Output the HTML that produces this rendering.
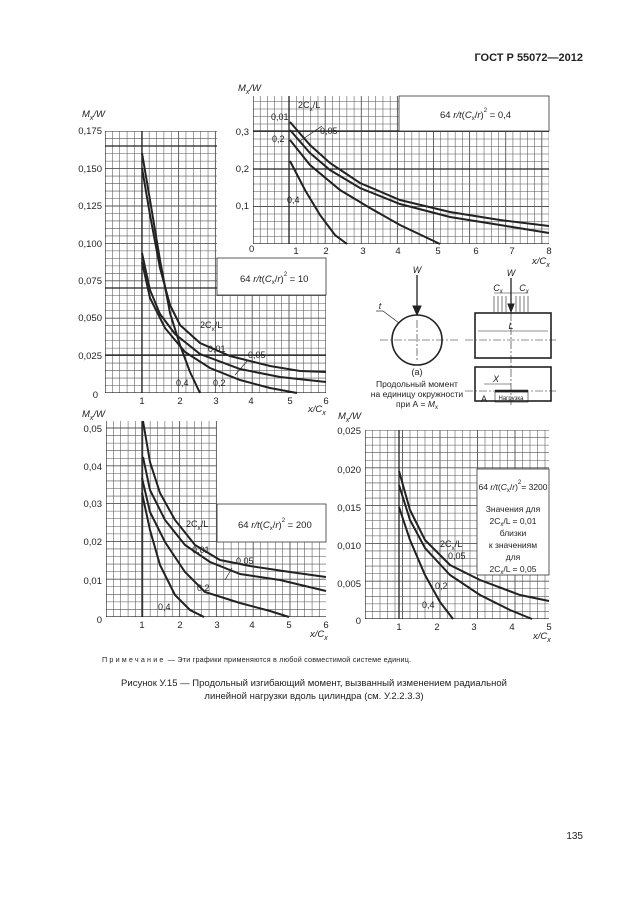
<!DOCTYPE html>
<html><head><meta charset="utf-8">
<style>
html,body{margin:0;padding:0;background:#fff;}
body{width:630px;height:913px;position:relative;overflow:hidden;font-family:"Liberation Sans",sans-serif;color:#222;}
svg text{font-family:"Liberation Sans",sans-serif;fill:#222;}
</style></head><body>
<svg id="s" width="630" height="913" viewBox="0 0 630 913" xmlns="http://www.w3.org/2000/svg">
<defs>
<clipPath id="c1"><polygon points="105,131 217,131 217,295 326,295 326,393 105,393"/></clipPath>
<clipPath id="c2"><polygon points="253,96 399,96 399,131 549,131 549,244 253,244"/></clipPath>
<clipPath id="c3"><polygon points="106,421 217,421 217,542 326,542 326,617 106,617"/></clipPath>
<clipPath id="c4"><polygon points="365,430 549,430 549,469 477,469 477,575 549,575 549,619 365,619"/></clipPath>
</defs>
<g id="grids"></g>
<g fill="#fff" stroke="#333" stroke-width="0.8">
<rect x="217" y="258" width="109" height="37"/>
<rect x="399" y="96" width="150" height="35"/>
<rect x="217" y="504" width="109" height="38"/>
<rect x="477" y="469" width="72" height="106"/>
</g>
<g fill="none" stroke="#222" stroke-width="2">
<!-- chart 1 -->
<polyline points="142,153 150,200 160,260 170,313 180,345 190,372 200,393"/>
<polyline points="142,168 150,215 160,268 170,305 180,325 200,343 230,356 270,366 300,371 326,372"/>
<polyline points="142,253 150,290 160,314 175,334 200,354 240,369 280,377 326,382"/>
<polyline points="142,262 150,298 165,328 185,352 210,368 240,380 270,388 297,393"/>
<!-- chart 2 -->
<polyline points="290,122 310,145 330,163 360,183 400,200 450,212 500,220 549,226"/>
<polyline points="290,130 310,153 330,170 360,188 400,204 450,217 500,225 549,233"/>
<polyline points="290,140 310,165 340,190 370,208 400,225 440,244"/>
<polyline points="290,161 305,190 320,215 335,235 347,244"/>
<!-- chart 3 -->
<polyline points="143,421 150,462 160,493 175,520 195,545 220,560 250,566 290,572 326,577"/>
<polyline points="143,457 150,490 165,520 185,545 210,562 240,574 280,580 326,591"/>
<polyline points="142,478 150,512 165,542 185,572 205,592 240,603 270,611 289,617"/>
<polyline points="142,493 150,530 160,565 175,595 190,610 204,617"/>
<!-- chart 4 -->
<polyline points="399,471 410,510 425,540 450,565 480,580 520,595 549,601"/>
<polyline points="399,485 410,520 425,548 450,575 480,595 510,610 532,619"/>
<polyline points="399,507 410,540 425,575 440,602 453,619"/>
</g>
<g stroke="#222" stroke-width="0.7">
<line x1="300" y1="141" x2="322" y2="126"/>
<line x1="235" y1="375" x2="248" y2="360"/>
<line x1="225" y1="580" x2="232" y2="568"/>
</g>
<g font-size="9.5">
<!-- chart1 axis -->
<text x="82" y="117" font-style="italic">M<tspan font-size="7" dy="3">x</tspan><tspan dy="-3">/W</tspan></text>
<text x="102" y="134" text-anchor="end">0,175</text>
<text x="102" y="172" text-anchor="end">0,150</text>
<text x="102" y="209" text-anchor="end">0,125</text>
<text x="102" y="247" text-anchor="end">0,100</text>
<text x="102" y="284" text-anchor="end">0,075</text>
<text x="102" y="321" text-anchor="end">0,050</text>
<text x="102" y="359" text-anchor="end">0,025</text>
<text x="98" y="398" text-anchor="end">0</text>
<text x="142" y="404" text-anchor="middle">1</text><text x="180" y="404" text-anchor="middle">2</text><text x="216" y="404" text-anchor="middle">3</text><text x="251" y="404" text-anchor="middle">4</text><text x="290" y="404" text-anchor="middle">5</text><text x="326" y="404" text-anchor="middle">6</text>
<text x="308" y="412" font-style="italic">x/C<tspan font-size="7" dy="3">x</tspan></text>
<text x="200" y="328" font-size="9">2C<tspan font-size="6.5" dy="3">x</tspan><tspan dy="-3">/L</tspan></text>
<text x="208" y="352" font-size="9">0,01</text>
<text x="248" y="358" font-size="9">0,05</text>
<text x="213" y="386" font-size="9">0,2</text>
<text x="176" y="386" font-size="9">0,4</text>
<text x="240" y="282" font-size="9.5">64 <tspan font-style="italic">r/t</tspan>(<tspan font-style="italic">C</tspan><tspan font-size="6" dy="2">x</tspan><tspan dy="-2">/</tspan><tspan font-style="italic">r</tspan>)<tspan font-size="6" dy="-6">2</tspan><tspan dy="6"> = 10</tspan></text>
<!-- chart2 -->
<text x="238" y="91" font-style="italic">M<tspan font-size="7" dy="3">x</tspan><tspan dy="-3">/W</tspan></text>
<text x="249" y="135" text-anchor="end">0,3</text>
<text x="249" y="172" text-anchor="end">0,2</text>
<text x="249" y="209" text-anchor="end">0,1</text>
<text x="249" y="252">0</text>
<text x="296" y="254" text-anchor="middle">1</text><text x="326" y="254" text-anchor="middle">2</text><text x="363" y="254" text-anchor="middle">3</text><text x="398" y="254" text-anchor="middle">4</text><text x="438" y="254" text-anchor="middle">5</text><text x="476" y="254" text-anchor="middle">6</text><text x="512" y="254" text-anchor="middle">7</text><text x="549" y="254" text-anchor="middle">8</text>
<text x="532" y="264" font-style="italic">x/C<tspan font-size="7" dy="3">x</tspan></text>
<text x="298" y="108" font-size="9">2C<tspan font-size="6.5" dy="3">x</tspan><tspan dy="-3">/L</tspan></text>
<text x="271" y="120" font-size="9">0,01</text>
<text x="320" y="134" font-size="9">0,05</text>
<text x="272" y="142" font-size="9">0,2</text>
<text x="287" y="203" font-size="9">0,4</text>
<text x="440" y="118" font-size="9.5">64 <tspan font-style="italic">r/t</tspan>(<tspan font-style="italic">C</tspan><tspan font-size="6" dy="2">x</tspan><tspan dy="-2">/</tspan><tspan font-style="italic">r</tspan>)<tspan font-size="6" dy="-6">2</tspan><tspan dy="6"> = 0,4</tspan></text>
<!-- chart3 -->
<text x="82" y="417" font-style="italic">M<tspan font-size="7" dy="3">x</tspan><tspan dy="-3">/W</tspan></text>
<text x="102" y="432" text-anchor="end">0,05</text>
<text x="102" y="470" text-anchor="end">0,04</text>
<text x="102" y="507" text-anchor="end">0,03</text>
<text x="102" y="545" text-anchor="end">0,02</text>
<text x="102" y="584" text-anchor="end">0,01</text>
<text x="102" y="623" text-anchor="end">0</text>
<text x="142" y="628" text-anchor="middle">1</text><text x="180" y="628" text-anchor="middle">2</text><text x="217" y="628" text-anchor="middle">3</text><text x="252" y="628" text-anchor="middle">4</text><text x="289" y="628" text-anchor="middle">5</text><text x="326" y="628" text-anchor="middle">6</text>
<text x="310" y="637" font-style="italic">x/C<tspan font-size="7" dy="3">x</tspan></text>
<text x="186" y="527" font-size="9">2C<tspan font-size="6.5" dy="3">x</tspan><tspan dy="-3">/L</tspan></text>
<text x="192" y="553" font-size="9">0,01</text>
<text x="236" y="564" font-size="9">0,05</text>
<text x="197" y="591" font-size="9">0,2</text>
<text x="158" y="610" font-size="9">0,4</text>
<text x="238" y="528" font-size="9.5">64 <tspan font-style="italic">r/t</tspan>(<tspan font-style="italic">C</tspan><tspan font-size="6" dy="2">x</tspan><tspan dy="-2">/</tspan><tspan font-style="italic">r</tspan>)<tspan font-size="6" dy="-6">2</tspan><tspan dy="6"> = 200</tspan></text>
<!-- chart4 -->
<text x="338" y="419" font-style="italic">M<tspan font-size="7" dy="3">x</tspan><tspan dy="-3">/W</tspan></text>
<text x="361" y="434" text-anchor="end">0,025</text>
<text x="361" y="473" text-anchor="end">0,020</text>
<text x="361" y="511" text-anchor="end">0,015</text>
<text x="361" y="549" text-anchor="end">0,010</text>
<text x="361" y="587" text-anchor="end">0,005</text>
<text x="361" y="624" text-anchor="end">0</text>
<text x="399" y="630" text-anchor="middle">1</text><text x="437" y="630" text-anchor="middle">2</text><text x="474" y="630" text-anchor="middle">3</text><text x="512" y="630" text-anchor="middle">4</text><text x="549" y="630" text-anchor="middle">5</text>
<text x="533" y="639" font-style="italic">x/C<tspan font-size="7" dy="3">x</tspan></text>
<text x="440" y="547" font-size="9">2C<tspan font-size="6.5" dy="3">x</tspan><tspan dy="-3">/L</tspan></text>
<text x="448" y="559" font-size="9">0,05</text>
<text x="435" y="589" font-size="9">0,2</text>
<text x="422" y="608" font-size="9">0,4</text>
<g font-size="8.5" text-anchor="middle">
<text x="513" y="490">64 <tspan font-style="italic">r/t</tspan>(<tspan font-style="italic">C</tspan><tspan font-size="6" dy="2">x</tspan><tspan dy="-2">/</tspan><tspan font-style="italic">r</tspan>)<tspan font-size="6" dy="-6">2</tspan><tspan dy="6">= 3200</tspan></text>
<text x="513" y="512">Значения для</text>
<text x="513" y="524">2C<tspan font-size="6" dy="2">x</tspan><tspan dy="-2">/L = 0,01</tspan></text>
<text x="513" y="536">близки</text>
<text x="513" y="548">к значениям</text>
<text x="513" y="560">для</text>
<text x="513" y="572">2C<tspan font-size="6" dy="2">x</tspan><tspan dy="-2">/L = 0,05</tspan></text>
</g>
</g>
<!-- diagram -->
<g stroke="#222" fill="none">
<circle cx="417" cy="340" r="25" stroke-width="1.6"/>
<line x1="417" y1="275" x2="417" y2="310" stroke-width="1.3"/>
<polygon points="413,306 421,306 417,315" fill="#222"/>
<line x1="380" y1="340" x2="460" y2="340" stroke-width="0.6" stroke-dasharray="8,2,2,2"/>
<line x1="417" y1="320" x2="417" y2="360" stroke-width="0.6" stroke-dasharray="8,2,2,2"/>
<line x1="383" y1="311" x2="399" y2="323" stroke-width="0.7"/>
<line x1="376" y1="311" x2="383" y2="311" stroke-width="0.7"/>
<rect x="475" y="313" width="76" height="45" stroke-width="1.6"/>
<rect x="475" y="367" width="76" height="34" stroke-width="1.6"/>
<line x1="465" y1="340" x2="556" y2="340" stroke-width="0.6" stroke-dasharray="8,2,2,2"/>
<line x1="511" y1="285" x2="511" y2="405" stroke-width="0.6" stroke-dasharray="8,2,2,2"/>
<line x1="465" y1="391" x2="556" y2="391" stroke-width="0.6" stroke-dasharray="8,2,2,2"/>
<line x1="478" y1="331" x2="548" y2="331" stroke-width="0.6"/>
<line x1="494" y1="293" x2="528" y2="293" stroke-width="0.6"/>
<g stroke-width="0.6"><line x1="494" y1="296" x2="494" y2="312"/><line x1="498" y1="296" x2="498" y2="312"/><line x1="502" y1="296" x2="502" y2="312"/><line x1="506" y1="296" x2="506" y2="312"/><line x1="516" y1="296" x2="516" y2="312"/><line x1="520" y1="296" x2="520" y2="312"/><line x1="524" y1="296" x2="524" y2="312"/><line x1="528" y1="296" x2="528" y2="312"/></g>
<line x1="511" y1="278" x2="511" y2="306" stroke-width="1.3"/>
<polygon points="508,304 514,304 511,312" fill="#222"/>
<line x1="484" y1="384" x2="511" y2="384" stroke-width="0.6"/>
<line x1="495" y1="391" x2="528" y2="391" stroke-width="2.5"/>
<rect x="495" y="392" width="33" height="10" stroke-width="0.6"/>
</g>
<g font-size="9" text-anchor="middle">
<text x="417" y="273" font-style="italic">W</text>
<text x="511" y="276" font-style="italic">W</text>
<text x="498" y="291" font-style="italic">C<tspan font-size="6" dy="2">x</tspan></text>
<text x="524" y="291" font-style="italic">C<tspan font-size="6" dy="2">x</tspan></text>
<text x="511" y="329" font-style="italic">L</text>
<text x="380" y="309" font-style="italic">t</text>
<text x="496" y="382" font-style="italic">X</text>
<text x="484" y="402">A</text>
<text x="511" y="400" font-size="6">Нагрузка</text>
<text x="417" y="375">(а)</text>
<text x="417" y="387" font-size="8.5">Продольный момент</text>
<text x="417" y="397" font-size="8.5">на единицу окружности</text>
<text x="417" y="407" font-size="8.5">при А = <tspan font-style="italic">M</tspan><tspan font-size="6" dy="2">x</tspan></text>
</g>
<text x="583" y="61" font-size="11" font-weight="bold" text-anchor="end">ГОСТ Р 55072—2012</text>
<text x="102" y="662" font-size="7.2" letter-spacing="0.2"><tspan letter-spacing="2.2">Примечание</tspan> — Эти графики применяются в любой совместимой системе единиц.</text>
<text x="314" y="686" font-size="9.5" text-anchor="middle">Рисунок У.15 — Продольный изгибающий момент, вызванный изменением радиальной</text>
<text x="314" y="699" font-size="9.5" text-anchor="middle">линейной нагрузки вдоль цилиндра (см. У.2.2.3.3)</text>
<text x="583" y="839" font-size="10" text-anchor="end">135</text>
</svg>
<script>
(function(){
var ns="http://www.w3.org/2000/svg",G=document.getElementById("grids");
function ln(g,x1,y1,x2,y2,w,c){var l=document.createElementNS(ns,"line");l.setAttribute("x1",x1);l.setAttribute("y1",y1);l.setAttribute("x2",x2);l.setAttribute("y2",y2);l.setAttribute("stroke",c||"#444");l.setAttribute("stroke-width",w);g.appendChild(l);}
function grid(clip,x0,x1,xs,y0,y1,ys,maj,heavyX,heavyY){
 var g=document.createElementNS(ns,"g");g.setAttribute("clip-path","url(#"+clip+")");G.appendChild(g);
 var i=0;for(var x=x0;x<=x1+0.5;x+=xs,i++)ln(g,x,y0,x,y1,i%5==0?0.9:0.55,"#555");
 i=0;for(var y=y1;y>=y0-0.5;y-=ys,i++)ln(g,x0,y,x1,y,i%5==0?0.9:0.55,"#555");
 (heavyX||[]).forEach(function(x){ln(g,x,y0,x,y1,1.3,"#222");});
 (heavyY||[]).forEach(function(y){ln(g,x0,y,x1,y,1.3,"#222");});
 ln(g,x0,y1,x1,y1,1.2,"#222");ln(g,x0,y0,x0,y1,1.2,"#222");
}
grid("c1",105,326,7.36,131,393,7.48,5,[142],[146,288,355]);
grid("c2",253,549,7.22,96,244,7.5,5,[289],[131,169]);
grid("c3",106,326,7.36,421,617,7.56,5,[142],[]);
grid("c4",365,549,7.5,430,619,7.56,5,[399],[]);
})();
</script>
</body></html>
